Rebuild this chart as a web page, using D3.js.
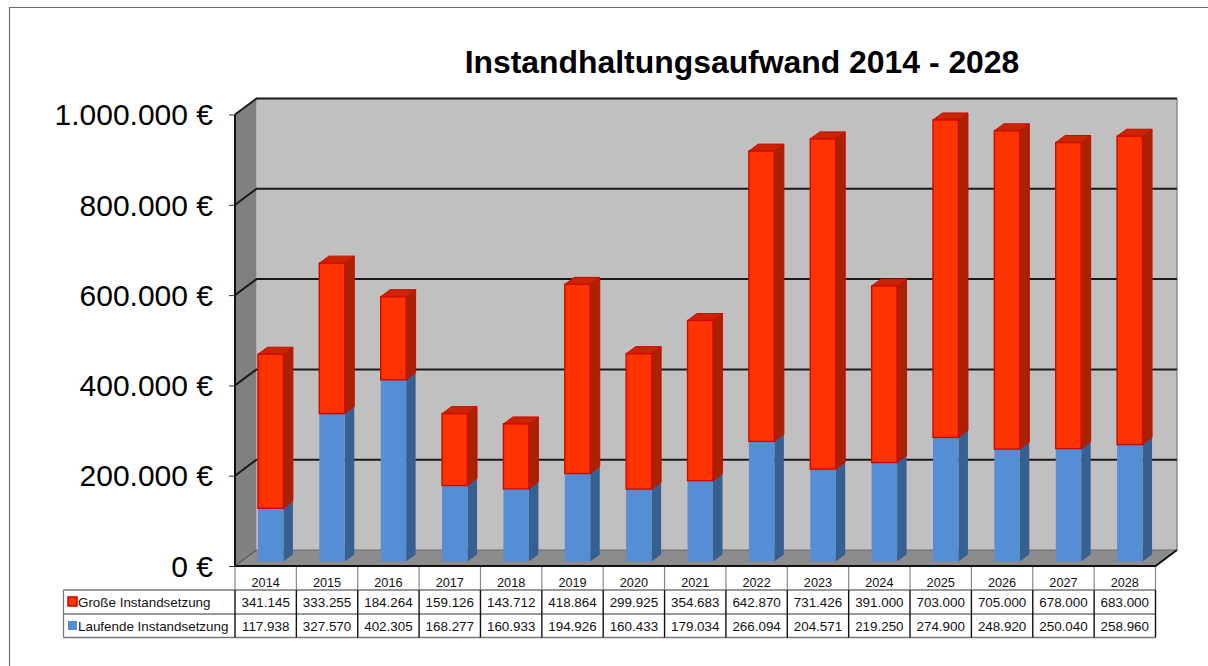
<!DOCTYPE html>
<html>
<head>
<meta charset="utf-8">
<script src="https://cdn.jsdelivr.net/npm/d3@7"></script>
<style>
  html, body { margin: 0; padding: 0; background: #fff; overflow: hidden; }
  svg { display: block; font-family: "Liberation Sans", Arial, sans-serif; }
</style>
</head>
<body>
<div id="chart"></div>
<script>
const years = ["2014", "2015", "2016", "2017", "2018", "2019", "2020", "2021", "2022", "2023", "2024", "2025", "2026", "2027", "2028"];
const grosse = [341145, 333255, 184264, 159126, 143712, 418864, 299925, 354683, 642870, 731426, 391000, 703000, 705000, 678000, 683000];
const laufende = [117938, 327570, 402305, 168277, 160933, 194926, 160433, 179034, 266094, 204571, 219250, 274900, 248920, 250040, 258960];
const yTicks = [0, 200000, 400000, 600000, 800000, 1000000];
const seriesNames = ["Große Instandsetzung", "Laufende Instandsetzung"];

const WIDTH = 1208, HEIGHT = 666;
const BLUE = { front: "#558ed5", side: "#376092", top: "#4a7dbd" };
const RED = { front: "#ff3300", side: "#a82200", top: "#c92500", stroke: "#cc0a00" };

// front plane of the 3d box, the back wall is shifted by depth
const plot = { left: 235, right: 1155.5, top: 114.5, bottom: 566 };
const depth = { x: 21.5, y: -16 };
const barShift = { x: 5, y: -4.5 };
const barDepth = { x: 9.5, y: -7 };

const fmtDe = d3.formatLocale({ decimal: ",", thousands: ".", grouping: [3], currency: ["", " €"] }).format(",d");

const x = d3.scaleBand().domain(years).range([plot.left, plot.right]).paddingInner(0.585).paddingOuter(0.2925);
const cols = d3.scaleBand().domain(years).range([plot.left, plot.right]);
const y = d3.scaleLinear().domain([0, 1000000]).range([plot.bottom, plot.top]);

const svg = d3.select("#chart").append("svg").attr("width", WIDTH).attr("height", HEIGHT);

// outer frame, runs off the right and bottom of the picture
svg.append("path")
    .attr("d", `M9.5,${HEIGHT + 2}V7.5H${WIDTH + 2}`)
    .attr("fill", "none")
    .attr("stroke", "#6e6e6e")
    .attr("stroke-width", 1.2);

svg.append("text")
    .attr("x", 742)
    .attr("y", 73)
    .attr("text-anchor", "middle")
    .attr("font-size", 31.9)
    .attr("font-weight", "bold")
    .text("Instandhaltungsaufwand 2014 - 2028");

// walls
const backL = plot.left + depth.x, backR = plot.right + depth.x;
const backT = plot.top + depth.y, backB = plot.bottom + depth.y;
svg.append("rect")
    .attr("x", backL).attr("y", backT)
    .attr("width", backR - backL).attr("height", backB - backT)
    .attr("fill", "#c0c0c0");
svg.append("path")
    .attr("d", `M${plot.left},${plot.top}L${backL},${backT}V${backB}L${plot.left},${plot.bottom}Z`)
    .attr("fill", "#808080");
svg.append("path")
    .attr("d", `M${plot.left},${plot.bottom}L${backL},${backB}H${backR}L${plot.right},${plot.bottom}Z`)
    .attr("fill", "#8c8c8c");
svg.append("path")
    .attr("d", `M${backR},${backT}V${backB}`)
    .attr("stroke", "#8a8a8a")
    .attr("stroke-width", 1.5);

// gridlines run along the side wall and the back wall
const grid = svg.append("g");
yTicks.filter(d => d > 0).forEach(d => {
    grid.append("path")
        .attr("d", `M${plot.left},${y(d)}L${backL},${y(d) + depth.y}H${backR}`)
        .attr("fill", "none")
        .attr("stroke", "#1a1a1a")
        .attr("stroke-width", 2);
});
svg.append("path")
    .attr("d", `M${backL},${backB}H${backR}`)
    .attr("stroke", "#6a6a6a")
    .attr("stroke-width", 1);

// floor and axis edges
svg.append("path")
    .attr("d", `M${plot.left},${plot.top}V${plot.bottom}H${plot.right}L${backR},${backB}`)
    .attr("fill", "none")
    .attr("stroke", "#111")
    .attr("stroke-width", 2);
svg.append("path")
    .attr("d", `M${plot.left},${plot.bottom}L${backL},${backB}`)
    .attr("stroke", "#444")
    .attr("stroke-width", 1);

// stacked 3d bars
function drawBox(g, year, lo, hi, c, showTop) {
    const x0 = x(year) + barShift.x, x1 = x0 + x.bandwidth();
    const yLo = y(lo) + barShift.y, yHi = y(hi) + barShift.y;
    const dx = barDepth.x, dy = barDepth.y;
    g.append("path")
        .attr("d", `M${x1},${yHi}L${x1 + dx},${yHi + dy}V${yLo + dy}L${x1},${yLo}Z`)
        .attr("fill", c.side)
        .attr("stroke", c.stroke || "none")
        .attr("stroke-width", 1);
    if (showTop) {
        g.append("path")
            .attr("d", `M${x0},${yHi}L${x0 + dx},${yHi + dy}H${x1 + dx}L${x1},${yHi}Z`)
            .attr("fill", c.top)
            .attr("stroke", c.stroke || "none")
            .attr("stroke-width", 1);
    }
    g.append("rect")
        .attr("x", x0).attr("y", yHi)
        .attr("width", x1 - x0).attr("height", yLo - yHi)
        .attr("fill", c.front)
        .attr("stroke", c.stroke || "none")
        .attr("stroke-width", c.stroke ? 1.4 : 0);
}

const bars = svg.append("g");
years.forEach((year, i) => {
    drawBox(bars, year, 0, laufende[i], BLUE, false);
    drawBox(bars, year, laufende[i], laufende[i] + grosse[i], RED, true);
});

// value axis
const yAxis = d3.axisLeft(y)
    .tickValues(yTicks)
    .tickSize(22)
    .tickPadding(0)
    .tickFormat(d => fmtDe(d) + " €");
const axisG = svg.append("g")
    .attr("transform", `translate(${plot.left + 1},0)`)
    .call(yAxis);
axisG.select(".domain").remove();
axisG.selectAll(".tick line").attr("x2", -1).attr("x1", -7).attr("stroke", "#333").attr("stroke-width", 1);
axisG.selectAll(".tick text")
    .attr("x", -23)
    .attr("dy", "0.34em")
    .attr("font-size", 30)
    .attr("fill", "#000")
    .attr("font-family", '"Liberation Sans", Arial, sans-serif');

// data table below the chart
const table = { left: 63.5, head: 567, row0: 590, row1: 614, row2: 637.5 };
const tableG = svg.append("g");
const line = (x1, y1, x2, y2, color, w) => tableG.append("line")
    .attr("x1", x1).attr("y1", y1).attr("x2", x2).attr("y2", y2)
    .attr("stroke", color).attr("stroke-width", w);

line(table.left, table.row0, plot.right, table.row0, "#777", 1.3);
line(table.left, table.row1, plot.right, table.row1, "#777", 1.3);
line(table.left, table.row2, plot.right, table.row2, "#777", 1.3);
line(table.left, table.row0, table.left, table.row2, "#777", 1.3);
cols.domain().concat("end").forEach(year => {
    const xx = year === "end" ? plot.right : cols(year);
    line(xx, table.head, xx, table.row0, "#888", 1.2);
    line(xx, table.row0, xx, table.row2, "#111", 1.4);
});

years.forEach((year, i) => {
    const cx = cols(year) + cols.bandwidth() / 2;
    tableG.append("text").attr("x", cx).attr("y", 587).attr("text-anchor", "middle")
        .attr("font-size", 12.7).attr("fill", "#111").text(year);
    tableG.append("text").attr("x", cx).attr("y", 606.5).attr("text-anchor", "middle")
        .attr("font-size", 13.4).attr("fill", "#111").text(fmtDe(grosse[i]));
    tableG.append("text").attr("x", cx).attr("y", 630.5).attr("text-anchor", "middle")
        .attr("font-size", 13.4).attr("fill", "#111").text(fmtDe(laufende[i]));
});

// legend keys in the first column
tableG.append("rect").attr("x", 68).attr("y", 597).attr("width", 9).attr("height", 9)
    .attr("fill", RED.front).attr("stroke", "#cc0000").attr("stroke-width", 1.5);
tableG.append("rect").attr("x", 68).attr("y", 621).attr("width", 9).attr("height", 9)
    .attr("fill", BLUE.front);
tableG.append("text").attr("x", 78).attr("y", 606.5).attr("font-size", 13.4).attr("fill", "#111").text(seriesNames[0]);
tableG.append("text").attr("x", 78).attr("y", 630.5).attr("font-size", 13.4).attr("fill", "#111").text(seriesNames[1]);
</script>
</body>
</html>
